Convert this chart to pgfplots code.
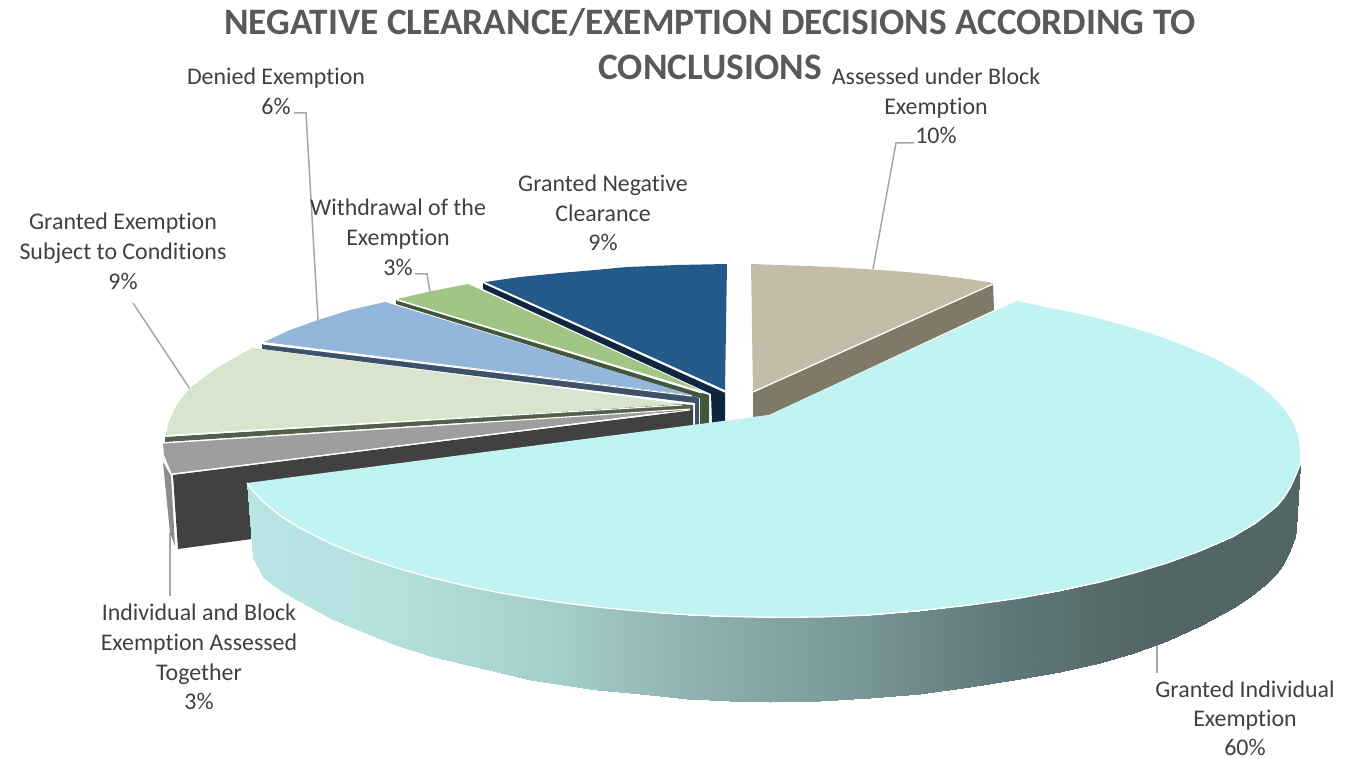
\documentclass[border=0pt]{standalone}
\usepackage{fontspec}
\setmainfont[Ligatures=NoCommon]{Carlito}
\usepackage{pgfplots}
\pgfplotsset{compat=1.18}
\definecolor{lab}{HTML}{404040}
\definecolor{ttl}{HTML}{595959}
\definecolor{lead}{HTML}{A6A6A6}
\newcommand{\lb}[3]{\node[anchor=base,text=lab,font=\fontsize{23.9}{26}\selectfont,inner sep=0pt] at (axis cs:#1,#2) {#3};}
\begin{document}
\begin{tikzpicture}
\begin{axis}[
  scale only axis, width=1360pt, height=759pt,
  xmin=0,xmax=1360,ymin=0,ymax=759,y dir=reverse,
  hide axis, clip=false,
  colormap={side}{rgb255=(186,229,229) rgb255=(179,223,221) rgb255=(165,207,205) rgb255=(142,176,174) rgb255=(122,152,150) rgb255=(95,122,121) rgb255=(82,102,101) rgb255=(82,102,101)},
  point meta min=250, point meta max=1300,
]
% page corners
\addplot[draw=none,forget plot] coordinates {(0,0)(1360,759)};
% leader lines
\addplot[lead,line width=1.5pt] coordinates {(294,113)(306,113)(318,320)};
\addplot[lead,line width=1.5pt] coordinates {(415,274)(427,274)(430,292)};
\addplot[lead,line width=1.5pt] coordinates {(133,303)(190,389)};
\addplot[lead,line width=1.5pt] coordinates {(914,143)(896,143)(873,269)};
\addplot[lead,line width=1.5pt] coordinates {(170,533)(170,596)};
\addplot[lead,line width=1.5pt] coordinates {(1157,645)(1157,673)};
% beige slice: Assessed under Block Exemption 10%
\addplot[fill={rgb,255:red,127;green,121;blue,104},draw=none] coordinates {(993,283)(994,310)(769,415)(753,417)(753,392)} --cycle;
\addplot[fill={rgb,255:red,196;green,188;blue,166},draw=none] coordinates {(751,264)(807,266)(840,267.5)(873,269.5)(907,272)(940,275.5)(968,279)(993,283)(753,392)} --cycle;
\addplot[white,line width=1.3pt] coordinates {(993,284)(753,392)};
% navy slice: Granted Negative Clearance 9%
\addplot[fill={rgb,255:red,14;green,38;blue,64},draw=none] coordinates {(483,283)(483,289)(711,394)(712,423)(725,422)(725,392)} --cycle;
\addplot[fill={rgb,255:red,35;green,90;blue,137},draw=none] coordinates {(727,264)(677,265)(627,267)(595,270)(560,273)(520,277)(485,282)(725,390)} --cycle;
\addplot[white,line width=1.3pt] coordinates {(484,283)(725,392)};
% green slice: Withdrawal 3%
\addplot[fill={rgb,255:red,67;green,85;blue,58},draw=none] coordinates {(396,300)(396,304)(700,398)(700,424)(709,424)(709,395)} --cycle;
\addplot[fill={rgb,255:red,160;green,197;blue,133},draw=none] coordinates {(397,299)(432,291)(468,284)(702,391)} --cycle;
\addplot[white,line width=1.1pt] coordinates {(397,300)(702,393)};
% blue slice: Denied Exemption 6%
\addplot[fill={rgb,255:red,61;green,81;blue,104},draw=none] coordinates {(262,344)(262,349)(460,374)(695,403)(695,425)(699,425)(699,398)(690,395)} --cycle;
\addplot[fill={rgb,255:red,146;green,183;blue,218},draw=none] coordinates {(264,342)(290,330)(318,320)(350,310)(385,302)(692,395)} --cycle;
\addplot[white,line width=1.1pt] coordinates {(263,344)(692,396)};
% sage slice: Granted Exemption Subject to Conditions 9%
\addplot[fill={rgb,255:red,86;green,95;blue,76},draw=none] coordinates {(165,437)(165,442)(460,423)(693,411)(693,405)(680,404)} --cycle;
\addplot[fill={rgb,255:red,217;green,228;blue,206},draw=none] coordinates {(252,348)(234,358)(217,368)(203,378)(190,388)(180,400)(173,412)(168,424)(166,435)(682,404)} --cycle;
\addplot[white,line width=1.1pt] coordinates {(165,436)(682,405)};
% grey slice with its faces: Individual and Block Exemption Assessed Together 3%
\addplot[fill={rgb,255:red,140;green,140;blue,140},draw=none] coordinates {(163,462)(170,533)(175,546)(171,476)} --cycle;
\addplot[fill={rgb,255:red,65;green,65;blue,65},draw=none] coordinates {(173,475)(693,410)(693,428)(252,539)(178,549)} --cycle;
\addplot[fill={rgb,255:red,158;green,158;blue,158},draw=none] coordinates {(163,443)(680,410)(172,474)(164,455)} --cycle;
\addplot[white,line width=1.1pt] coordinates {(163,443)(690,409)};
\addplot[white,line width=1.1pt] coordinates {(172,474)(690,410)};
\addplot[white,line width=1pt] coordinates {(172,476)(177,549)};
% main slice side
\addplot[patch,patch type=rectangle,shader=interp,point meta=x] coordinates {
(247,483)(254,492.4)(258,567)(253,558)
(254,492.4)(263,501.6)(263,576.5)(258,567)
(263,501.6)(280,515.5)(280,589.5)(263,576.5)
(280,515.5)(297,526.4)(297,600)(280,589.5)
(297,526.4)(330,543.3)(330,618)(297,600)
(330,543.3)(363,556.7)(363,632)(330,618)
(363,556.7)(396,567.8)(396,645)(363,632)
(396,567.8)(430,577.3)(430,655.5)(396,645)
(430,577.3)(463,585.2)(463,664)(430,655.5)
(463,585.2)(497,592.2)(497,672)(463,664)
(497,592.2)(530,597.9)(530,680)(497,672)
(530,597.9)(563,602.8)(563,685)(530,680)
(563,602.8)(597,607)(597,689.5)(563,685)
(597,607)(630,610.3)(630,693)(597,689.5)
(630,610.3)(660,612.8)(660,696)(630,693)
(660,612.8)(687,614.6)(687,698.5)(660,696)
(687,614.6)(730,616.5)(730,701)(687,698.5)
(730,616.5)(770,617.4)(770,702)(730,701)
(770,617.4)(820,617)(820,700.5)(770,702)
(820,617)(870,615)(870,698)(820,700.5)
(870,615)(920,610.5)(920,694)(870,698)
(920,610.5)(970,605)(970,687)(920,694)
(970,605)(1020,598)(1020,679)(970,687)
(1020,598)(1060,590.5)(1060,671.5)(1020,679)
(1060,590.5)(1100,582)(1100,663)(1060,671.5)
(1100,582)(1134,573)(1134,653)(1100,663)
(1134,573)(1167,563)(1167,641)(1134,653)
(1167,563)(1200,551)(1200,626)(1167,641)
(1200,551)(1233,536.5)(1233,608)(1200,626)
(1233,536.5)(1244,530)(1244,601)(1233,608)
(1244,530)(1255,523.5)(1255,593)(1244,601)
(1255,523.5)(1266,515)(1266,584)(1255,593)
(1266,515)(1277,506)(1277,573)(1266,584)
(1277,506)(1284,497.5)(1284,563)(1277,573)
(1284,497.5)(1290,488)(1290,550)(1284,563)
(1290,488)(1295,477)(1295,537)(1290,550)
(1295,477)(1300,465)(1296,530)(1295,537)
};
% main slice top: Granted Individual Exemption 60%
\addplot[fill={rgb,255:red,192;green,243;blue,242},draw=none] coordinates {
(769,415)(1017,301)(1050,308)(1085,315)(1117,323.5)(1150,333)(1180,344)(1210,356.5)(1235,369.5)(1255,382)(1272,396)(1285,410)(1293,422.6)(1298,435)(1300,450)(1300,465)
(1295,477)(1290,488)(1284,497.5)(1277,506)(1266,515)(1255,523.5)(1244,530)(1233,536.5)(1200,551)(1167,563)(1134,573)(1100,582)(1060,590.5)(1020,598)(970,605)(920,610.5)(870,615)(820,617)(770,617.4)(730,616.5)(687,614.6)(660,612.8)(630,610.3)(597,607)(563,602.8)(530,597.9)(497,592.2)(463,585.2)(430,577.3)(396,567.8)(363,556.7)(330,543.3)(297,526.4)(280,515.5)(263,501.6)(254,492.4)(247,483)
} --cycle;
\addplot[white,line width=1.3pt] coordinates {(1300,465)(1295,477)(1290,488)(1284,497.5)(1277,506)(1266,515)(1255,523.5)(1244,530)(1233,536.5)(1200,551)(1167,563)(1134,573)(1100,582)(1060,590.5)(1020,598)(970,605)(920,610.5)(870,615)(820,617)(770,617.4)(730,616.5)(687,614.6)(660,612.8)(630,610.3)(597,607)(563,602.8)(530,597.9)(497,592.2)(463,585.2)(430,577.3)(396,567.8)(363,556.7)(330,543.3)(297,526.4)(280,515.5)(263,501.6)(254,492.4)(247,483)};
% texts
\node[anchor=base,text=ttl,font=\fontsize{37.3}{45}\selectfont\bfseries,inner sep=0pt] at (axis cs:710,35) {NEGATIVE CLEARANCE/EXEMPTION DECISIONS ACCORDING TO};
\node[anchor=base,text=ttl,font=\fontsize{37.3}{45}\selectfont\bfseries,inner sep=0pt] at (axis cs:710,80) {CONCLUSIONS};
\lb{276}{85}{Denied Exemption}
\lb{276}{115}{6\%}
\lb{936}{85}{Assessed under Block}
\lb{936}{115}{Exemption}
\lb{936}{144}{10\%}
\lb{603}{192}{Granted Negative}
\lb{603}{222}{Clearance}
\lb{603}{251}{9\%}
\lb{398}{216}{Withdrawal of the}
\lb{398}{246}{Exemption}
\lb{398}{276}{3\%}
\lb{123}{230}{Granted Exemption}
\lb{123}{260}{Subject to Conditions}
\lb{123}{290}{9\%}
\lb{199}{620}{Individual and Block}
\lb{199}{650}{Exemption Assessed}
\lb{199}{680}{Together}
\lb{199}{709}{3\%}
\lb{1245}{697}{Granted Individual}
\lb{1245}{726}{Exemption}
\lb{1245}{755}{60\%}
\end{axis}
\end{tikzpicture}
\end{document}
